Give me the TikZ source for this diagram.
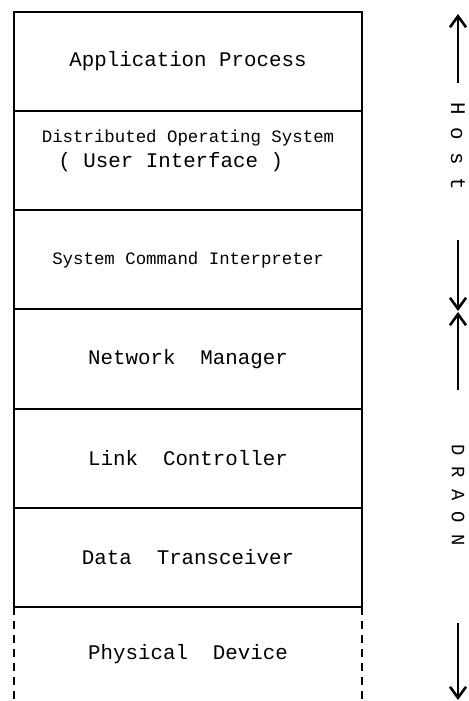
\documentclass[tikz,border=0pt]{standalone}
\usepackage{fontspec}
\setmonofont{Liberation Mono}
\usepackage{tikz}
\usetikzlibrary{positioning,arrows.meta}
\tikzset{
  capa/.style={rectangle, draw, line width=1pt, minimum width=174pt, minimum height=49.5pt,
    outer sep=0pt, inner sep=0pt, align=center, font=\fontsize{10.4}{14}\selectfont\ttfamily},
  capac/.style={capa, font=\fontsize{8.7}{12.5}\selectfont\ttfamily},
  flecha/.style={-{Straight Barb[length=5.5pt,width=8pt]}, line width=1.3pt},
  etq/.style={rotate=-90, inner sep=0pt, font=\fontsize{10.4}{12}\selectfont\ttfamily},
}

\begin{document}
\begin{tikzpicture}[x=0.5pt,y=-0.5pt]
  \useasboundingbox (0,0) rectangle (468,701);
  % pila de capas
  \node[capa, anchor=north west] (ap) at (14,12) {Application Process};
  \node[capac, below=0pt of ap, align=left] (dos) {Distributed Operating System\\[0pt]
    {\fontsize{10.4}{12.5}\selectfont\hspace*{0.8em}( User Interface )}\\[-4pt]\strut};
  \node[capac, below=0pt of dos] (sci) {System Command Interpreter};
  \node[capa, below=0pt of sci, minimum height=50pt] (nm) {Network\ \ Manager};
  \node[capa, below=0pt of nm] (lc) {Link\ \ Controller};
  \node[capa, below=0pt of lc] (dt) {Data\ \ Transceiver};
  \node[capa, draw=none, below=0pt of dt, minimum height=47pt] (fd) {Physical\ \ Device};
  \draw[dashed, dash pattern=on 4pt off 3pt, line width=1pt] (fd.north west) -- (fd.south west);
  \draw[dashed, dash pattern=on 4pt off 3pt, line width=1pt] (fd.north east) -- (fd.south east);
  % Host / DRAON
  \coordinate (h0) at (458,14);  \coordinate (h1) at (458,83);
  \coordinate (h2) at (458,240); \coordinate (h3) at (458,311);
  \draw[flecha] (h1) -- (h0);
  \node[etq] (host) at (458,146) {H o s t};
  \draw[flecha] (h2) -- (h3);
  \coordinate (d0) at (458,312); \coordinate (d1) at (458,390);
  \coordinate (d2) at (458,623); \coordinate (d3) at (458,700);
  \draw[flecha] (d1) -- (d0);
  \node[etq, font=\fontsize{9.4}{12}\selectfont\ttfamily] (draon) at (458,495) {D R A O N};
  \draw[flecha] (d2) -- (d3);
\end{tikzpicture}
\end{document}
